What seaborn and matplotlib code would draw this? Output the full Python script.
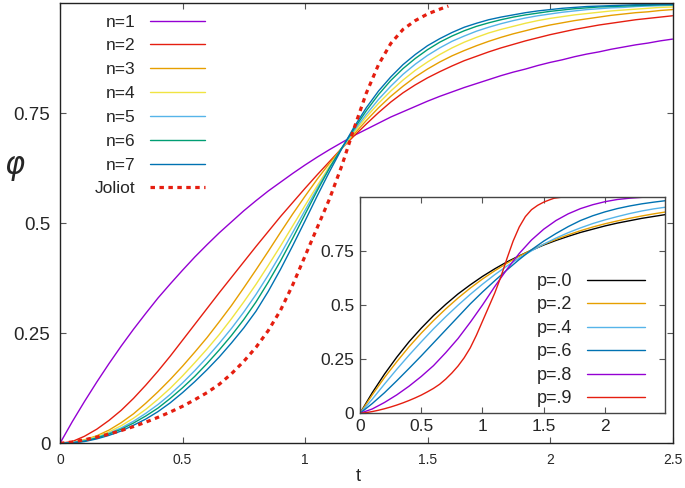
import numpy as np
import pandas as pd
import seaborn as sns
import matplotlib
matplotlib.use("Agg")
import matplotlib.pyplot as plt

# values (main panel, step 0.05 in t)
t_main = [0.0, 0.05, 0.1, 0.15, 0.2, 0.25, 0.3, 0.35, 0.4, 0.45, 0.5, 0.55, 0.6,
          0.65, 0.7, 0.75, 0.8, 0.85, 0.9, 0.95, 1.0, 1.05, 1.1, 1.15, 1.2, 1.25,
          1.3, 1.35, 1.4, 1.45, 1.5, 1.55, 1.6, 1.65, 1.7, 1.75, 1.8, 1.85, 1.9,
          1.95, 2.0, 2.05, 2.1, 2.15, 2.2, 2.25, 2.3, 2.35, 2.4, 2.45, 2.5]

n1 = [0, .049, .095, .139, .181, .221, .259, .295, .330, .362, .393, .423, .451,
      .478, .503, .528, .551, .573, .593, .613, .632, .650, .667, .683, .699, .713,
      .727, .741, .753, .765, .777, .788, .798, .808, .817, .826, .835, .843, .850,
      .858, .865, .871, .878, .884, .889, .895, .900, .905, .909, .914, .918]
n2 = [0, .004, .016, .032, .052, .075, .102, .132, .164, .198, .234, .270, .306,
      .342, .377, .412, .447, .481, .515, .547, .579, .610, .640, .670, .698, .725,
      .751, .775, .796, .814, .830, .844, .857, .869, .879, .889, .898, .906, .914,
      .921, .928, .934, .940, .945, .950, .954, .958, .962, .965, .968, .971]
n3 = [0, .002, .008, .017, .030, .047, .067, .091, .117, .145, .175, .207, .240,
      .276, .313, .353, .394, .436, .479, .521, .561, .600, .636, .670, .702, .733,
      .762, .788, .811, .832, .850, .866, .880, .892, .903, .913, .922, .930, .937,
      .944, .950, .955, .960, .964, .968, .972, .975, .978, .980, .983, .985]
n4 = [0, .002, .007, .015, .026, .040, .057, .077, .100, .125, .153, .183, .214,
      .247, .283, .321, .361, .404, .448, .494, .540, .585, .629, .669, .706, .741,
      .772, .800, .825, .847, .866, .883, .898, .911, .922, .932, .940, .947, .954,
      .960, .965, .969, .973, .976, .979, .982, .984, .986, .988, .990, .991]
n5 = [0, .002, .006, .013, .023, .035, .050, .068, .088, .111, .137, .165, .195,
      .227, .261, .298, .338, .382, .429, .479, .529, .579, .626, .670, .710, .747,
      .781, .811, .838, .861, .881, .898, .913, .925, .936, .945, .953, .960, .966,
      .971, .975, .979, .982, .985, .987, .989, .990, .992, .993, .994, .995]
n6 = [0, .001, .005, .012, .021, .032, .046, .062, .080, .102, .126, .152, .181,
      .212, .245, .281, .321, .366, .414, .466, .520, .574, .625, .671, .714, .755,
      .792, .824, .851, .874, .894, .911, .925, .937, .947, .955, .962, .968, .973,
      .977, .981, .984, .987, .989, .991, .992, .993, .994, .995, .996, .996]
n7 = [0, .001, .004, .010, .018, .028, .041, .055, .072, .092, .115, .140, .167,
      .196, .228, .262, .300, .345, .395, .449, .505, .562, .617, .669, .718, .762,
      .800, .832, .860, .883, .903, .919, .933, .945, .954, .962, .968, .973, .978,
      .982, .985, .988, .990, .992, .993, .994, .995, .996, .996, .997, .997]

t_joliot = [0, .05, .1, .15, .2, .25, .3, .35, .4, .45, .5, .55, .6, .65, .7, .75,
            .8, .85, .9, .95, 1.0, 1.05, 1.1, 1.15, 1.2, 1.25, 1.3, 1.35, 1.4,
            1.45, 1.5, 1.55, 1.585]
joliot = [0, .003, .008, .014, .021, .029, .038, .048, .059, .071, .084, .099,
          .115, .134, .158, .186, .218, .256, .302, .360, .425, .490, .555, .630,
          .715, .795, .860, .908, .940, .960, .975, .986, .993]

# inset: p curves (step 0.1 in t)
t_inset = [0.0, 0.1, 0.2, 0.3, 0.4, 0.5, 0.6, 0.7, 0.8, 0.9, 1.0, 1.1, 1.2,
           1.3, 1.4, 1.5, 1.6, 1.7, 1.8, 1.9, 2.0, 2.1, 2.2, 2.3, 2.4, 2.5]
p0 = [0, .095, .181, .259, .330, .393, .451, .503, .551, .593, .632, .667, .699,
      .727, .753, .777, .798, .817, .835, .850, .865, .878, .889, .900, .909, .918]
p2 = [0, .085, .165, .238, .307, .370, .428, .482, .532, .578, .620, .658, .693,
      .725, .754, .780, .803, .824, .843, .860, .875, .888, .900, .911, .921, .930]
p4 = [0, .065, .135, .203, .268, .330, .390, .446, .499, .549, .596, .640, .680,
      .717, .750, .781, .809, .834, .856, .876, .893, .908, .922, .934, .944, .952]
p6 = [0, .045, .095, .150, .207, .265, .325, .385, .445, .505, .560, .612, .662,
      .710, .755, .795, .830, .862, .890, .912, .930, .945, .957, .967, .975, .982]
p8 = [0, .020, .050, .085, .125, .170, .220, .280, .345, .420, .500, .585, .665,
      .738, .800, .850, .890, .921, .945, .963, .977, .987, .993, .997, .999, 1.0]
t_p9 = t_joliot + [1.65, 1.75, 2.5]
p9 = joliot + [.998, 1.0, 1.0]

n_labels = ["n=1", "n=2", "n=3", "n=4", "n=5", "n=6", "n=7"]
p_labels = ["p=.0", "p=.2", "p=.4", "p=.6", "p=.8", "p=.9"]

purple, red, orange, yellow = "#9400D3", "#E51E10", "#E69F00", "#F0E442"
sky, green, blue = "#56B4E9", "#009E73", "#0072B2"

sns.set_style("ticks")
plt.rcParams["font.family"] = ["Liberation Sans", "DejaVu Sans"]

fig = plt.figure(figsize=(6.85, 4.88), dpi=100)
ax = fig.add_axes([60 / 685, 1 - 443.3 / 488, 612.5 / 685, 440.3 / 488])

n_colors = [purple, red, orange, yellow, sky, green, blue]
for lab, vals, col in zip(n_labels, [n1, n2, n3, n4, n5, n6, n7], n_colors):
    sns.lineplot(x=t_main, y=vals, ax=ax, color=col, lw=1.0, label=lab,
                 sort=False)
sns.lineplot(x=t_joliot, y=joliot, ax=ax, color=red, lw=2.3, label="Joliot",
             sort=False, linestyle=(0, (1.4, 1.4)))

ax.set_xlim(0, 2.5)
ax.set_ylim(0, 1.0)
ax.set_xticks([0, 0.5, 1, 1.5, 2, 2.5])
ax.set_xticklabels(["0", "0.5", "1", "1.5", "2", "2.5"], fontsize=10)
ax.set_yticks([0, 0.25, 0.5, 0.75])
ax.set_yticklabels(["0", "0.25", "0.5", "0.75"], fontsize=13.5)
ax.tick_params(direction="in", length=4, width=0.8, color="#555555",
               top=True, right=True)
ax.tick_params(axis="x", pad=7)
ax.tick_params(axis="y", pad=7)
for s in ax.spines.values():
    s.set_linewidth(1.0)
    s.set_color("#222222")
ax.set_xlabel("t", fontsize=13, va="center")
ax.xaxis.set_label_coords(0.487, -0.075)
ax.set_ylabel(r"$\varphi$", fontsize=22, rotation=0, va="center", ha="center")
ax.yaxis.set_label_coords(-0.073, 0.625)

ax.legend(loc="upper right", bbox_to_anchor=(0.237, 0.974), frameon=False,
          markerfirst=False, fontsize=12.5, handlelength=3.2, handletextpad=0.8,
          labelspacing=0.5, borderpad=0, borderaxespad=0)

# inset
axi = fig.add_axes([360 / 685, 1 - 413.3 / 488, 305 / 685, 216.6 / 488])
axi.set_facecolor("white")
p_colors = ["black", orange, sky, blue, purple, red]
p_t = [t_inset, t_inset, t_inset, t_inset, t_inset, t_p9]
for lab, tt, vals, col in zip(p_labels, p_t, [p0, p2, p4, p6, p8, p9], p_colors):
    sns.lineplot(x=tt, y=vals, ax=axi, color=col, lw=1.0, label=lab, sort=False)
axi.set_xlim(0, 2.49)
axi.set_ylim(0, 1.0)
axi.set_xticks([0, 0.5, 1, 1.5, 2])
axi.set_xticklabels(["0", "0.5", "1", "1.5", "2"], fontsize=12.5)
axi.set_yticks([0, 0.25, 0.5, 0.75])
axi.set_yticklabels(["0", "0.25", "0.5", "0.75"], fontsize=12.5)
axi.tick_params(direction="in", length=4, width=0.8, color="#555555",
                top=True, right=True, pad=4)
for s in axi.spines.values():
    s.set_linewidth(1.0)
    s.set_color("#444444")
axi.set_xlabel("")
axi.set_ylabel("")
axi.legend(loc="upper right", bbox_to_anchor=(0.934, 0.648), frameon=False,
           markerfirst=False, fontsize=13, handlelength=3.2, handletextpad=0.8,
           labelspacing=0.36, borderpad=0, borderaxespad=0)

fig.savefig("out.png", dpi=100)
